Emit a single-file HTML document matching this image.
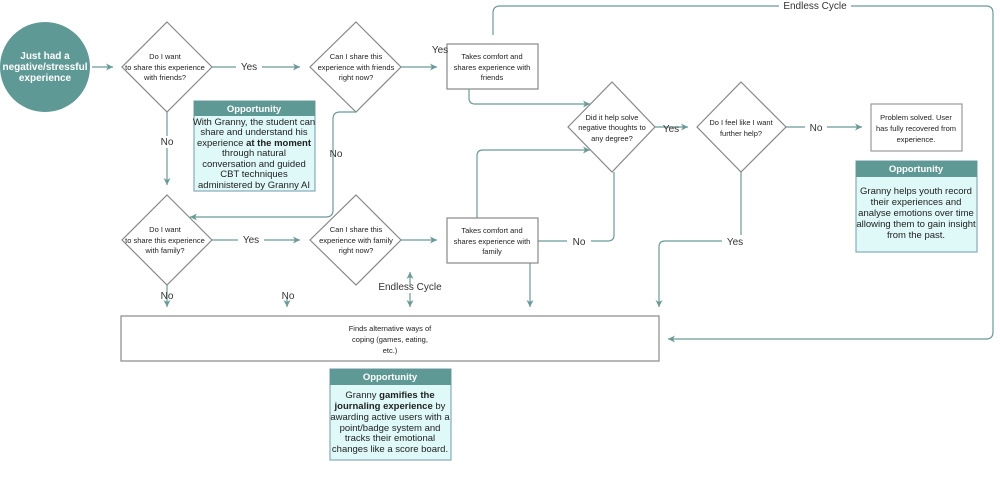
<!DOCTYPE html>
<html><head><meta charset="utf-8"><style>
body{margin:0;background:#fff;width:1000px;height:483px;overflow:hidden}
svg{font-family:"Liberation Sans",sans-serif}
.t{font-size:7.5px;fill:#222;text-anchor:middle}
.l{font-size:10px;fill:#333;text-anchor:middle}
.o{font-size:9.5px;fill:#222;text-anchor:middle}
.h{font-size:9.5px;fill:#fff;font-weight:bold;text-anchor:middle}
</style></head><body>
<svg width="1000" height="483" viewBox="0 0 1000 483">
<defs><marker id="a" markerWidth="8" markerHeight="8" refX="7" refY="4" orient="auto" markerUnits="userSpaceOnUse"><path d="M0,0.5 L7,4 L0,7.5 L2,4z" fill="#6a9a98"/></marker></defs>
<g fill="none" stroke="#6a9a98" stroke-width="1.2">
<circle cx="45" cy="67" r="45" fill="#5f9995" stroke="none"/>
<path d="M92,67 H113" marker-end="url(#a)"/>
<path d="M212,67 H300" marker-end="url(#a)"/>
<path d="M401,67 H437" marker-end="url(#a)"/>
<path d="M167,112 V185" marker-end="url(#a)"/>
<path d="M356,112 L340,112 Q333,112 333,119 V210 Q333,217 326,217 H190" marker-end="url(#a)"/>
<path d="M212,240 H300" marker-end="url(#a)"/>
<path d="M401,240 H437" marker-end="url(#a)"/>
<path d="M469,89 V98 Q469,104 475,104 H590" marker-end="url(#a)"/>
<path d="M477,218 V156 Q477,150 483,150 H590" marker-end="url(#a)"/>
<path d="M655,127 H688" marker-end="url(#a)"/>
<path d="M786,127 H862" marker-end="url(#a)"/>
<path d="M614,172 V235 Q614,241 608,241 H527"/>
<path d="M530,241 V307" marker-end="url(#a)"/>
<path d="M741,172 V241 H665 Q659,241 659,247 V307" marker-end="url(#a)"/>
<path d="M167,285 V307" marker-end="url(#a)"/>
<path d="M287,298 V307" marker-end="url(#a)"/>
<path d="M410,285 V272" marker-end="url(#a)"/>
<path d="M410,293 V307" marker-end="url(#a)"/>
<path d="M493,35 V13 Q493,6 500,6 H986 Q993,6 993,13 V332 Q993,339 986,339 H668" marker-end="url(#a)"/>
<path d="M167,22 L212,67 L167,112 L122,67Z" fill="#fff" stroke="#888"/>
<path d="M356,22 L401,67 L356,112 L310,67Z" fill="#fff" stroke="#888"/>
<path d="M167,195 L212,240 L167,285 L122,240Z" fill="#fff" stroke="#888"/>
<path d="M356,195 L401,240 L356,285 L310,240Z" fill="#fff" stroke="#888"/>
<path d="M612,82 L655,127 L612,172 L568,127Z" fill="#fff" stroke="#888"/>
<path d="M741,82 L786,127 L741,172 L697,127Z" fill="#fff" stroke="#888"/>
<rect x="447" y="44" width="91" height="45" fill="#fff" stroke="#888"/>
<rect x="447" y="218" width="91" height="45" fill="#fff" stroke="#888"/>
<rect x="871" y="104" width="91" height="47" fill="#fff" stroke="#999"/>
<rect x="121" y="316" width="538" height="45" fill="#fff" stroke="#888"/>
<rect x="194" y="101" width="121" height="90" fill="#dff8f8" stroke="#8ab"/>
<rect x="194" y="101" width="121" height="15" fill="#5f9995" stroke="none"/>
<rect x="856" y="161" width="121" height="91" fill="#dff8f8" stroke="#8ab"/>
<rect x="856" y="161" width="121" height="16" fill="#5f9995" stroke="none"/>
<rect x="330" y="369" width="121" height="91" fill="#dff8f8" stroke="#8ab"/>
<rect x="330" y="369" width="121" height="16" fill="#5f9995" stroke="none"/>
</g>
<g font-weight="bold" font-size="10" fill="#fff" text-anchor="middle">
<text x="45" y="59">Just had a</text><text x="45" y="70">negative/stressful</text><text x="45" y="81">experience</text></g>
<text class="t" x="165" y="59">Do I want</text><text class="t" x="165" y="70">to share this experience</text><text class="t" x="165" y="80">with friends?</text>
<text class="t" x="356" y="59">Can I share this</text><text class="t" x="356" y="70">experience with friends</text><text class="t" x="356" y="80">right now?</text>
<text class="t" x="165" y="232">Do I want</text><text class="t" x="165" y="243">to share this experience</text><text class="t" x="165" y="253">with family?</text>
<text class="t" x="356" y="232">Can I share this</text><text class="t" x="356" y="243">experience with family</text><text class="t" x="356" y="253">right now?</text>
<text class="t" x="492" y="59">Takes comfort and</text><text class="t" x="492" y="70">shares experience with</text><text class="t" x="492" y="80">friends</text>
<text class="t" x="492" y="233">Takes comfort and</text><text class="t" x="492" y="244">shares experience with</text><text class="t" x="492" y="254">family</text>
<text class="t" x="612" y="120">Did it help solve</text><text class="t" x="612" y="130">negative thoughts to</text><text class="t" x="612" y="141">any degree?</text>
<text class="t" x="741" y="125">Do I feel like I want</text><text class="t" x="741" y="136">further help?</text>
<text class="t" x="916" y="120">Problem solved. User</text><text class="t" x="916" y="131">has fully recovered from</text><text class="t" x="916" y="142">experience.</text>
<text class="t" x="390" y="331">Finds alternative ways of</text><text class="t" x="390" y="342">coping (games, eating,</text><text class="t" x="390" y="353">etc.)</text>
<g class="l">
<rect x="236" y="61" width="26" height="12" fill="#fff"/><text class="l" x="249" y="70">Yes</text>
<text class="l" x="440" y="53">Yes</text>
<rect x="155" y="136" width="24" height="12" fill="#fff"/><text class="l" x="167" y="145">No</text>
<text class="l" x="336" y="157">No</text>
<rect x="238" y="234" width="26" height="12" fill="#fff"/><text class="l" x="251" y="243">Yes</text>
<text class="l" x="167" y="299">No</text><text class="l" x="288" y="299">No</text>
<text class="l" x="410" y="290">Endless Cycle</text>
<rect x="567" y="235" width="24" height="12" fill="#fff"/><text class="l" x="579" y="245">No</text>
<rect x="722" y="235" width="26" height="12" fill="#fff"/><text class="l" x="735" y="245">Yes</text>
<text class="l" x="671" y="132">Yes</text>
<rect x="805" y="121" width="22" height="12" fill="#fff"/><text class="l" x="816" y="131">No</text>
<rect x="779" y="0" width="72" height="12" fill="#fff"/><text class="l" x="815" y="9">Endless Cycle</text>
</g>
<text class="h" x="254" y="112">Opportunity</text>
<text class="o" x="254" y="125">With Granny, the student can</text>
<text class="o" x="254" y="135">share and understand his</text>
<text class="o" x="254" y="146">experience <tspan font-weight="bold">at the moment</tspan></text>
<text class="o" x="254" y="156">through natural</text>
<text class="o" x="254" y="167">conversation and guided</text>
<text class="o" x="254" y="177">CBT techniques</text>
<text class="o" x="254" y="188">administered by Granny AI</text>
<text class="h" x="916" y="172">Opportunity</text>
<text class="o" x="916" y="194">Granny helps youth record</text>
<text class="o" x="916" y="205">their experiences and</text>
<text class="o" x="916" y="216">analyse emotions over time</text>
<text class="o" x="916" y="227">allowing them to gain insight</text>
<text class="o" x="916" y="238">from the past.</text>
<text class="h" x="390" y="380">Opportunity</text>
<text class="o" x="390" y="398">Granny <tspan font-weight="bold">gamifies the</tspan></text>
<text class="o" x="390" y="409"><tspan font-weight="bold">journaling experience</tspan> by</text>
<text class="o" x="390" y="420">awarding active users with a</text>
<text class="o" x="390" y="431">point/badge system and</text>
<text class="o" x="390" y="441">tracks their emotional</text>
<text class="o" x="390" y="452">changes like a score board.</text>
</svg>
</body></html>
